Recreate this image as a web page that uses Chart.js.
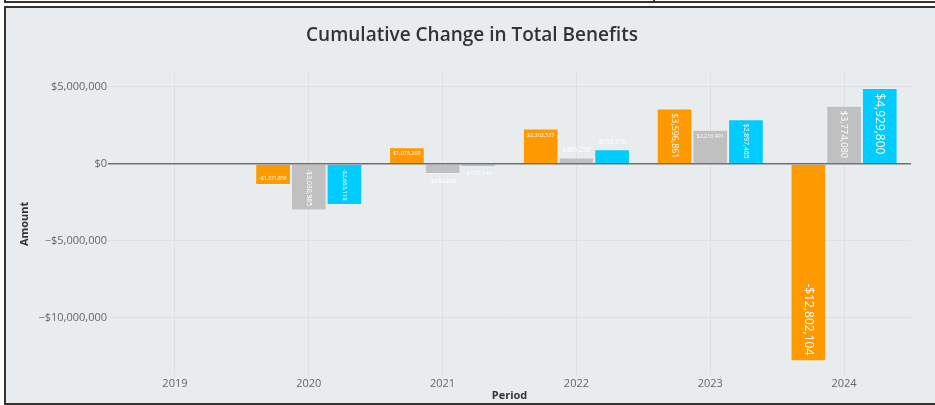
<!DOCTYPE html>
<html>
<head>
<meta charset="utf-8">
<title>Cumulative Change in Total Benefits</title>
<script src="https://cdn.jsdelivr.net/npm/chart.js@4.4.1/dist/chart.umd.min.js"></script>
<style>
html, body { margin: 0; padding: 0; background: #fff; width: 935px; height: 405px; overflow: hidden; }
#prev { position: absolute; left: 4px; top: -10px; width: 932px; height: 11px; border-left: 2px solid #333; border-bottom: 2px solid #333; }
#divider { position: absolute; left: 653px; top: 0; width: 2px; height: 3px; background: #333; }
#box { position: absolute; left: 4px; top: 6px; width: 932px; height: 395px; border: 2px solid #333; border-right: none; background: #e9ecef; }
</style>
</head>
<body>
<div id="prev"></div>
<div id="divider"></div>
<div id="box"><canvas id="myChart"></canvas></div>
<script>
// chart data
var periods = ['2019', '2020', '2021', '2022', '2023', '2024'];
var seriesA = [0, -1371856, 1075209, 2302537, 3596861, -12802104];
var seriesB = [0, -3030985, -652208, 409258, 2216491, 3774080];
var seriesC = [0, -2663118, -170349, 950370, 2897465, 4929800];
var amountTicks = [5000000, 0, -5000000, -10000000];
var amountMin = -13700000;
var amountMax = 5910000;

var FONT = '"Open Sans", "Noto Sans", sans-serif';

function money(v) {
    if (v === 0) return '$0';
    return (v < 0 ? '-$' : '$') + Math.abs(v).toLocaleString('en-US');
}

function tickMoney(v) {
    if (v === 0) return '$0';
    return (v < 0 ? '\u2212$' : '$') + Math.abs(v).toLocaleString('en-US');
}

// center the title on the whole canvas, not on the padded area
var wideTitle = {
    id: 'wideTitle',
    afterLayout: function (chart) {
        var t = chart.titleBlock;
        if (!t) return;
        t.left = 0;
        t.right = chart.width;
        t.width = chart.width;
    }
};

// value labels drawn roughly the way plotly does textposition 'auto'
var barText = {
    id: 'barText',
    afterDatasetsDraw: function (chart) {
        var ctx = chart.ctx;
        var BASE = 12, PAD = 3;
        ctx.save();
        ctx.fillStyle = '#fff';
        ctx.textAlign = 'center';
        ctx.textBaseline = 'middle';
        chart.data.datasets.forEach(function (ds, di) {
            var meta = chart.getDatasetMeta(di);
            meta.data.forEach(function (bar, i) {
                var v = ds.data[i];
                if (!v) return;
                var p = bar.getProps(['x', 'y', 'base', 'width'], true);
                var h = Math.abs(p.base - p.y);
                var text = money(v);
                ctx.font = BASE + 'px ' + FONT;
                var tw = ctx.measureText(text).width * 1.08;
                var th = BASE * 1.35;
                var bw = p.width - 2 * PAD;
                var bh = h - 2 * PAD;
                var up = v > 0;

                var inside = (tw <= bw && th <= bh) || (tw <= bh && th <= bw) ||
                    (bh >= th * (bw / tw));

                if (inside) {
                    var rotate = !(tw <= bw && th <= bh) && bh > bw;
                    var s = rotate ? Math.min(1, bh / tw, bw / th) : Math.min(1, bw / tw, bh / th);
                    var size = BASE * s;
                    var half = (rotate ? tw : th) * s / 2;
                    var cy = up ? p.y + PAD + half : p.y - PAD - half;
                    ctx.font = size + 'px ' + FONT;
                    ctx.save();
                    ctx.translate(p.x, cy);
                    if (rotate) ctx.rotate(Math.PI / 2);
                    ctx.fillText(text, 0, 0);
                    ctx.restore();
                } else {
                    var so = Math.min(1, bw / tw);
                    var hh = th * so / 2;
                    var oy = up ? p.y - PAD - hh : p.y + PAD + hh;
                    ctx.font = (BASE * so) + 'px ' + FONT;
                    ctx.fillText(text, p.x, oy);
                }
            });
        });
        ctx.restore();
    }
};

var ctx = document.getElementById('myChart').getContext('2d');
var chart = new Chart(ctx, {
    type: 'bar',
    data: {
        labels: periods,
        datasets: [{
            label: 'Series A',
            data: seriesA,
            backgroundColor: '#ff9900',
            borderColor: 'rgba(255,255,255,0.18)',
            borderWidth: 1
        }, {
            label: 'Series B',
            data: seriesB,
            backgroundColor: '#c0c0c0',
            borderColor: 'rgba(255,255,255,0.18)',
            borderWidth: 1
        }, {
            label: 'Series C',
            data: seriesC,
            backgroundColor: '#00ccff',
            borderColor: 'rgba(255,255,255,0.18)',
            borderWidth: 1
        }]
    },
    plugins: [wideTitle, barText],
    options: {
        responsive: true,
        maintainAspectRatio: false,
        animation: false,
        datasets: { bar: { categoryPercentage: 0.8, barPercentage: 1 } },
        layout: { padding: { left: 0, right: 27, top: 0, bottom: 0 } },
        plugins: {
            legend: { display: false },
            tooltip: { enabled: false },
            title: {
                display: true,
                text: 'Cumulative Change in Total Benefits',
                color: '#333',
                font: { family: FONT, size: 19, weight: '600' },
                padding: { top: 16, bottom: 26 }
            }
        },
        scales: {
            x: {
                grid: { offset: false, color: '#dde0e4', drawTicks: false },
                border: { display: false },
                ticks: { color: '#666', font: { family: FONT, size: 11 }, padding: 2 },
                title: {
                    display: true,
                    text: 'Period',
                    color: '#333',
                    font: { family: FONT, size: 11, weight: 'bold' },
                    padding: { top: 0, bottom: 1 }
                },
                afterFit: function (scale) { scale.height = 28; }
            },
            y: {
                min: amountMin,
                max: amountMax,
                afterBuildTicks: function (scale) {
                    scale.ticks = amountTicks.map(function (v) { return { value: v }; });
                },
                grid: {
                    drawTicks: false,
                    color: function (c) { return c.tick && c.tick.value === 0 ? '#6e6e6e' : '#dde0e4'; },
                    lineWidth: function (c) { return c.tick && c.tick.value === 0 ? 1.5 : 1; }
                },
                border: { display: false },
                ticks: {
                    color: '#666',
                    font: { family: FONT, size: 11 },
                    padding: 1,
                    callback: function (v) { return tickMoney(v); }
                },
                title: {
                    display: true,
                    text: 'Amount',
                    color: '#333',
                    font: { family: FONT, size: 11, weight: 'bold' },
                    padding: { top: 12, bottom: 0 }
                },
                afterFit: function (scale) { scale.width = 102; }
            }
        }
    }
});
</script>
</body>
</html>
